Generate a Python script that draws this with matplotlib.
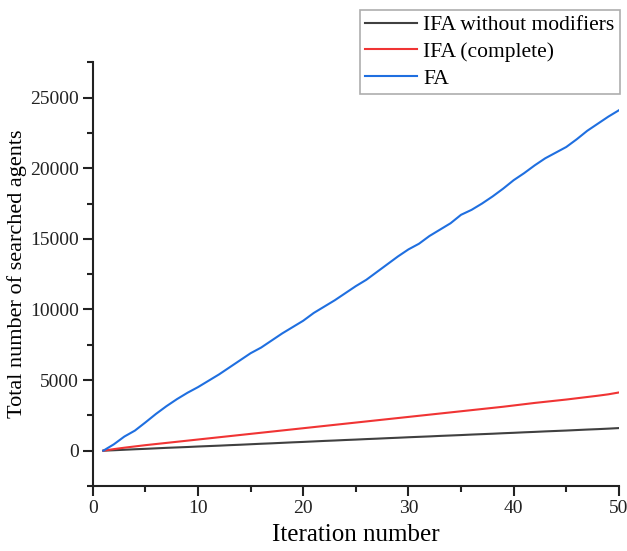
import numpy as np
import matplotlib.pyplot as plt
from matplotlib.ticker import MultipleLocator

plt.rcParams['font.family'] = ['Liberation Serif', 'DejaVu Serif']

# cumulative number of searched agents per iteration
iterations = list(range(1, 51))
ifa_plain = [0, 30, 65, 100, 130, 165, 200, 230, 260, 295,
             325, 355, 390, 420, 455, 490, 520, 555, 590, 620,
             655, 690, 720, 755, 785, 820, 850, 885, 915, 950,
             980, 1010, 1045, 1075, 1105, 1140, 1170, 1200, 1235, 1265,
             1300, 1330, 1365, 1395, 1425, 1460, 1495, 1525, 1560, 1600]
ifa_complete = [0, 110, 210, 300, 390, 470, 550, 630, 710, 790,
                870, 950, 1030, 1110, 1190, 1270, 1350, 1430, 1510, 1590,
                1670, 1750, 1830, 1910, 1990, 2070, 2150, 2230, 2310, 2390,
                2470, 2550, 2630, 2710, 2790, 2870, 2950, 3030, 3110, 3200,
                3290, 3380, 3460, 3540, 3620, 3710, 3800, 3890, 3990, 4120]
fa = [0, 450, 1000, 1420, 2000, 2600, 3150, 3650, 4100, 4500,
      4950, 5400, 5900, 6400, 6900, 7300, 7800, 8300, 8750, 9200,
      9750, 10200, 10650, 11150, 11650, 12100, 12650, 13200, 13750, 14250,
      14650, 15200, 15650, 16100, 16700, 17050, 17500, 18000, 18550, 19150,
      19650, 20200, 20700, 21100, 21500, 22050, 22650, 23150, 23650, 24100]

fig = plt.figure(figsize=(6.27, 5.51), dpi=100)
ax = fig.add_axes([0.148, 0.118, 0.839, 0.769])

ax.plot(iterations, ifa_plain, color='#404040', lw=1.5, label='IFA without modifiers')
ax.plot(iterations, ifa_complete, color='#f03434', lw=1.5, label='IFA (complete)')
ax.plot(iterations, fa, color='#1f6fe0', lw=1.5, label='FA')

ax.set_xlim(0, 50)
ax.set_ylim(-2500, 27500)
ax.xaxis.set_major_locator(MultipleLocator(10))
ax.xaxis.set_minor_locator(MultipleLocator(5))
ax.yaxis.set_major_locator(MultipleLocator(5000))
ax.yaxis.set_minor_locator(MultipleLocator(2500))

for s in ['top', 'right']:
    ax.spines[s].set_visible(False)
for s in ['left', 'bottom']:
    ax.spines[s].set_linewidth(1.5)
    ax.spines[s].set_color('#222222')

ax.tick_params(which='major', direction='out', length=7, width=1.5, labelsize=14,
               colors='#222222', pad=3)
ax.tick_params(which='minor', direction='out', length=4, width=1.5, colors='#222222')

ax.set_xlabel('Iteration number', fontsize=18, labelpad=5)
ax.set_ylabel('Total number of searched agents', fontsize=16, labelpad=2)

leg = fig.legend(loc='upper right', bbox_to_anchor=(620 / 627, 1 - 10 / 551),
                 borderaxespad=0, fontsize=15.5, frameon=True, fancybox=False,
                 handlelength=2.4, handletextpad=0.3, labelspacing=0.3,
                 borderpad=0.25)
leg.get_frame().set_edgecolor('#999999')
leg.get_frame().set_linewidth(1.2)

fig.savefig('out.png', dpi=100)
